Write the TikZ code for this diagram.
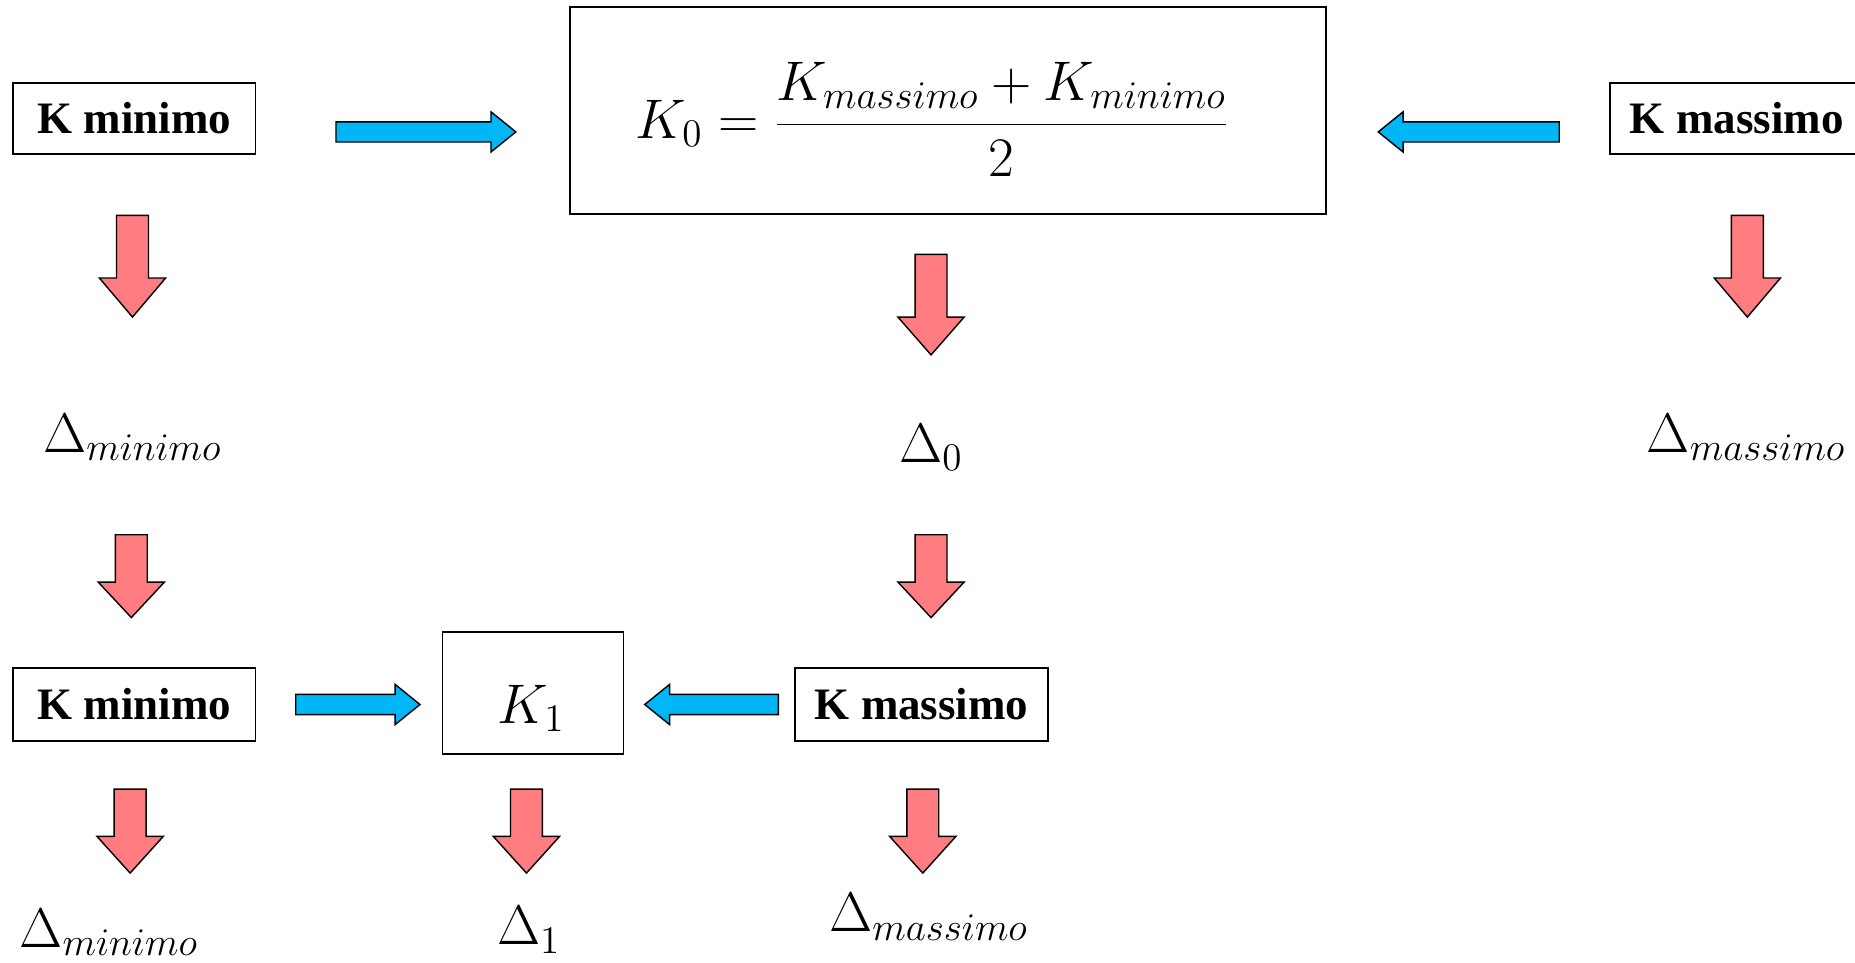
\RequirePackage{fix-cm}
\documentclass[tikz,border=0pt]{standalone}
\usepackage{fontspec}
\setmainfont{Liberation Serif}
\definecolor{bluefill}{HTML}{00B6F5}
\definecolor{redfill}{HTML}{FF7C80}
\newcommand\BlueArr[4]{% y centre, x tail, x head base, x tip
  \filldraw[bluearrow] (#2,{#1-8.5}) -- (#3,{#1-8.5}) -- (#3,{#1-17}) -- (#4,#1) -- (#3,{#1+17}) -- (#3,{#1+8.5}) -- (#2,{#1+8.5}) -- cycle;}
\newcommand\RedArr[4]{% x centre, y top, y head base, y tip
  \filldraw[redarrow] ({#1-13.5},#2) -- ({#1+13.5},#2) -- ({#1+13.5},#3) -- ({#1+28},#3) -- (#1,#4) -- ({#1-28},#3) -- ({#1-13.5},#3) -- cycle;}
\tikzset{
  bluearrow/.style={fill=bluefill, draw=black, line width=0.6pt, line join=miter},
  redarrow/.style={fill=redfill, draw=black, line width=0.6pt, line join=miter},
  kbox/.style={draw=black, line width=0.8pt, inner sep=0pt, font=\fontsize{19}{22}\selectfont\bfseries},
  mathlbl/.style={inner sep=0pt, font=\fontsize{23.6}{28}\selectfont},
}
\begin{document}
\begin{tikzpicture}[x=0.5pt,y=-0.5pt]
\useasboundingbox (0,0) rectangle (1568,814);
% top row
\node[kbox, minimum width=102.5pt, minimum height=30pt] (kmin1) at (113.5,100) {K minimo};
\node[kbox, minimum width=319.5pt, minimum height=87.5pt] (fbox) at (801.5,93.5) {};
\node[mathlbl] (form) at (788,101) {$\displaystyle K_0=\frac{K_{massimo}+K_{minimo}}{2}$};
\node[kbox, minimum width=107pt, minimum height=30pt] (kmax1) at (1468,100) {K massimo};
\BlueArr{111.5}{284}{415}{436}
\BlueArr{111.5}{1318}{1186}{1165}
% first red arrows
\RedArr{112}{182}{235}{268}
\RedArr{787}{215}{268}{300}
\RedArr{1477}{182}{235}{268}
% deltas
\node[mathlbl] (dmin1) at (112,370) {$\Delta_{minimo}$};
\node[mathlbl] (d0) at (787,378) {$\Delta_0$};
\node[mathlbl] (dmax1) at (1476,370) {$\Delta_{massimo}$};
% second red arrows
\RedArr{111}{452}{492}{522}
\RedArr{787}{452}{492}{522}
% bottom row
\node[kbox, minimum width=102.5pt, minimum height=30.5pt] (kmin2) at (113.5,595.5) {K minimo};
\node[draw=black, line width=0.8pt, minimum width=76.5pt, minimum height=51.5pt] (k1box) at (450.5,585.5) {};
\node[mathlbl] (k1) at (449,599) {$K_1$};
\node[kbox, minimum width=107pt, minimum height=30.5pt] (kmax2) at (779,595.5) {K massimo};
\BlueArr{595.5}{250}{334}{355}
\BlueArr{595.5}{658}{566}{545}
% third red arrows
\RedArr{110}{667}{707}{738}
\RedArr{445}{667}{707}{738}
\RedArr{780}{667}{707}{738}
% bottom deltas
\node[mathlbl] (dmin2) at (92,788) {$\Delta_{minimo}$};
\node[mathlbl] (d1) at (447,786) {$\Delta_1$};
\node[mathlbl] (dmax2) at (785,775) {$\Delta_{massimo}$};
\end{tikzpicture}
\end{document}
